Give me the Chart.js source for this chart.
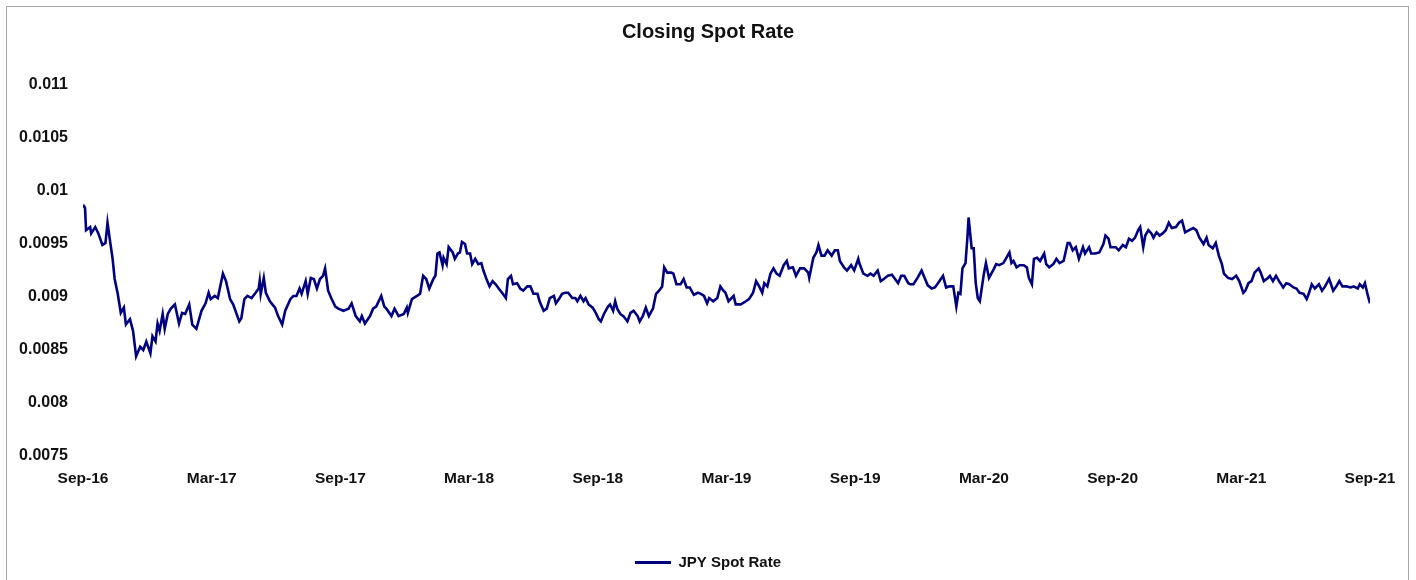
<!DOCTYPE html>
<html lang="en">
<head>
    <meta charset="UTF-8">
    <title>Closing Spot Rate</title>
    <script src="https://cdn.jsdelivr.net/npm/chart.js"></script>
    <style>
        body {
            margin: 0;
            padding: 0;
            background: #fff;
            font-family: "Liberation Sans", Arial, sans-serif;
        }

        /* grey frame round the chart */
        .frame {
            position: absolute;
            left: 6px;
            top: 6px;
            width: 1403px;
            height: 580px;
            border: 1px solid #a6a6a6;
            border-bottom: none;
            box-sizing: border-box;
        }

        .chart-wrapper {
            position: absolute;
            left: 0;
            top: 0;
            width: 1416px;
            height: 580px;
        }
    </style>
</head>
<body>
    <div class="frame"></div>
    <div class="chart-wrapper">
        <canvas id="spotChart" width="1416" height="580"></canvas>
    </div>

    <script>
        // x = trading day since start of Sep-16, y = JPY spot rate
        const tradingDay = [
            0, 2, 3, 7, 8, 12, 15, 19, 22, 24, 26, 29, 31, 34, 37, 40, 42, 46, 49, 52,
            56, 59, 62, 66, 68, 71, 73, 75, 78, 80, 83, 86, 90, 94, 97, 100, 104, 107, 111, 116,
            120, 123, 125, 129, 132, 135, 137, 140, 144, 147, 150, 153, 155, 158, 161, 165, 169, 172, 173, 174,
            177, 179, 183, 188, 191, 195, 198, 203, 206, 209, 212, 214, 218, 220, 223, 226, 229, 232, 235, 237,
            240, 243, 247, 250, 255, 260, 263, 267, 271, 273, 276, 281, 284, 287, 292, 295, 297, 302, 305, 309,
            314, 317, 318, 322, 327, 330, 333, 336, 339, 343, 345, 347, 349, 352, 353, 356, 358, 362, 364, 367,
            369, 371, 374, 376, 379, 381, 384, 387, 390, 392, 395, 398, 401, 404, 407, 411, 414, 416, 419, 421,
            425, 428, 431, 435, 438, 441, 445, 447, 451, 454, 457, 461, 463, 466, 469, 472, 475, 479, 482, 484,
            487, 490, 492, 495, 499, 502, 505, 507, 510, 514, 516, 519, 521, 523, 526, 529, 533, 536, 539, 543,
            545, 548, 551, 554, 558, 561, 564, 567, 569, 572, 576, 578, 581, 585, 588, 591, 594, 598, 602, 605,
            608, 611, 613, 617, 621, 624, 627, 629, 632, 637, 639, 644, 649, 652, 656, 659, 662, 665, 667, 670,
            673, 676, 679, 682, 686, 689, 691, 695, 698, 702, 706, 710, 711, 715, 718, 720, 723, 726, 729, 733,
            736, 739, 741, 745, 748, 752, 755, 759, 760, 764, 768, 771, 774, 778, 781, 784, 788, 792, 795, 798,
            801, 804, 808, 810, 813, 817, 821, 824, 827, 831, 834, 837, 842, 845, 848, 852, 855, 857, 859, 861,
            864, 866, 867, 870, 872, 874, 876, 878, 882, 884, 887, 891, 894, 897, 901, 904, 907, 909, 911, 914,
            917, 921, 924, 926, 929, 931, 934, 937, 941, 943, 946, 950, 953, 956, 960, 964, 966, 969, 972, 975,
            979, 981, 985, 987, 991, 995, 999, 1001, 1004, 1006, 1011, 1014, 1018, 1021, 1024, 1027, 1030, 1033, 1035, 1038,
            1040, 1043, 1046, 1048, 1051, 1054, 1057, 1060, 1063, 1066, 1070, 1073, 1076, 1079, 1083, 1087, 1090, 1093, 1097, 1100,
            1102, 1106, 1109, 1112, 1115, 1117, 1121, 1125, 1129, 1132, 1136, 1138, 1141, 1144, 1147, 1151, 1153, 1156, 1160, 1162,
            1165, 1168, 1171, 1175, 1178, 1181, 1185, 1188, 1191, 1195, 1198, 1200, 1203, 1206, 1210, 1213, 1216, 1220, 1224, 1227,
            1230, 1233, 1237, 1241, 1244, 1248, 1250, 1253, 1255, 1258, 1260
        ];

        const jpyRate = [
            0.00987, 0.00984, 0.00963, 0.00966, 0.0096, 0.00966, 0.0096, 0.00949, 0.00951, 0.0097,
            0.00956, 0.00936, 0.00917, 0.00903, 0.00885, 0.0089, 0.00874, 0.00879, 0.00868, 0.00844,
            0.00853, 0.0085, 0.00858, 0.00847, 0.00863, 0.00858, 0.00875, 0.00868, 0.00884, 0.0087,
            0.00884, 0.00889, 0.00893, 0.00875, 0.00885, 0.00884, 0.00893, 0.00874, 0.0087, 0.00887,
            0.00894, 0.00904, 0.00898, 0.00901, 0.00899, 0.00913, 0.00922, 0.00915, 0.00898, 0.00893,
            0.00885, 0.00877, 0.0088, 0.00898, 0.00901, 0.00899, 0.00904, 0.00908, 0.00915, 0.00903,
            0.00918, 0.00904, 0.00896, 0.0089, 0.00882, 0.00874, 0.00887, 0.00898, 0.00901, 0.00901,
            0.00908, 0.00903, 0.00915, 0.00903, 0.00918, 0.00917, 0.00908, 0.00917, 0.0092, 0.00927,
            0.00906, 0.00899, 0.00891, 0.00889, 0.00887, 0.00889, 0.00894, 0.00882, 0.00877, 0.00882,
            0.00875, 0.00882, 0.00889, 0.00891, 0.00901, 0.00891, 0.00889, 0.00882, 0.00889, 0.00882,
            0.00884, 0.0089, 0.00885, 0.00898, 0.00901, 0.00903, 0.0092, 0.00917, 0.00908, 0.00917,
            0.0092, 0.00941, 0.00942, 0.0093, 0.00937, 0.00931, 0.00947, 0.00942, 0.00936, 0.00941,
            0.00942, 0.00952, 0.0095, 0.00941, 0.00941, 0.00931, 0.00936, 0.00931, 0.00932, 0.00925,
            0.00917, 0.0091, 0.00915, 0.00912, 0.00908, 0.00903, 0.00899, 0.00917, 0.0092, 0.00912,
            0.00913, 0.00908, 0.00906, 0.0091, 0.0091, 0.00903, 0.00903, 0.00896, 0.00887, 0.00889,
            0.00899, 0.00901, 0.00894, 0.00898, 0.00903, 0.00904, 0.00904, 0.00899, 0.00899, 0.00896,
            0.00901, 0.00896, 0.00899, 0.00893, 0.0089, 0.00885, 0.00879, 0.00877, 0.00884, 0.00891,
            0.00893, 0.00887, 0.00896, 0.00889, 0.00884, 0.00882, 0.00877, 0.00885, 0.00887, 0.00882,
            0.00877, 0.00882, 0.0089, 0.00882, 0.00889, 0.00903, 0.00906, 0.0091, 0.00928, 0.00923,
            0.00923, 0.00922, 0.00912, 0.00912, 0.00917, 0.00909, 0.00909, 0.00902, 0.00904, 0.00903,
            0.00901, 0.00894, 0.00899, 0.00896, 0.00899, 0.0091, 0.00906, 0.00904, 0.00896, 0.00901,
            0.00893, 0.00893, 0.00896, 0.00898, 0.00904, 0.00915, 0.0091, 0.00904, 0.00913, 0.0091,
            0.00922, 0.00927, 0.00922, 0.0092, 0.0093, 0.00934, 0.00927, 0.00928, 0.0092, 0.00927,
            0.00927, 0.00923, 0.00918, 0.00937, 0.00942, 0.00949, 0.00939, 0.00939, 0.00944, 0.00939,
            0.00944, 0.00944, 0.00934, 0.00928, 0.00925, 0.0093, 0.00925, 0.00936, 0.00932, 0.00922,
            0.0092, 0.00922, 0.0092, 0.00925, 0.00915, 0.00917, 0.0092, 0.00921, 0.00917, 0.00913,
            0.0092, 0.0092, 0.00913, 0.00912, 0.00912, 0.00918, 0.00925, 0.00918, 0.00911, 0.00908,
            0.00909, 0.00913, 0.0092, 0.00909, 0.0091, 0.0091, 0.00891, 0.00904, 0.00903, 0.00927,
            0.00932, 0.00958, 0.00975, 0.00946, 0.00946, 0.00913, 0.00899, 0.00896, 0.00922, 0.00932,
            0.00918, 0.00925, 0.00931, 0.0093, 0.00932, 0.00937, 0.00942, 0.00932, 0.00934, 0.00928,
            0.0093, 0.0093, 0.00928, 0.00918, 0.00912, 0.00936, 0.00937, 0.00934, 0.00941, 0.00931,
            0.00928, 0.00931, 0.00936, 0.00932, 0.00934, 0.00951, 0.00951, 0.00944, 0.00947, 0.00936,
            0.00947, 0.00941, 0.00947, 0.00941, 0.00941, 0.00942, 0.0095, 0.00958, 0.00955, 0.00947,
            0.00947, 0.00944, 0.00949, 0.00947, 0.00955, 0.00953, 0.00956, 0.00963, 0.00966, 0.00947,
            0.00958, 0.00963, 0.0096, 0.00956, 0.00961, 0.00958, 0.0096, 0.00963, 0.0097, 0.00965,
            0.00966, 0.0097, 0.00972, 0.00961, 0.00963, 0.00965, 0.00963, 0.00956, 0.0095, 0.00956,
            0.00949, 0.00946, 0.00951, 0.00939, 0.00931, 0.00922, 0.00918, 0.00917, 0.0092, 0.00915,
            0.00904, 0.00906, 0.00913, 0.00915, 0.00923, 0.00927, 0.00923, 0.00915, 0.00918, 0.0092,
            0.00915, 0.0092, 0.00915, 0.00909, 0.00913, 0.00912, 0.00909, 0.00908, 0.00904, 0.00903,
            0.00898, 0.00903, 0.00912, 0.00908, 0.00912, 0.00906, 0.0091, 0.00917, 0.00906, 0.0091,
            0.00915, 0.0091, 0.0091, 0.00909, 0.0091, 0.00908, 0.00912, 0.00909, 0.00913, 0.00901,
            0.00894
        ];

        // axis ticks: one label every six months (126 trading days)
        const xTickLabels = ['Sep-16', 'Mar-17', 'Sep-17', 'Mar-18', 'Sep-18', 'Mar-19',
                             'Sep-19', 'Mar-20', 'Sep-20', 'Mar-21', 'Sep-21'];
        const daysPerTick = 126;
        const yTicks = [0.0075, 0.008, 0.0085, 0.009, 0.0095, 0.01, 0.0105, 0.011];

        const points = tradingDay.map((d, i) => ({ x: d, y: jpyRate[i] }));

        const fontFamily = '"Liberation Sans", Arial, sans-serif';
        const textColor = '#111';

        const ctx = document.getElementById('spotChart').getContext('2d');
        const spotChart = new Chart(ctx, {
            type: 'line',
            data: {
                datasets: [{
                    label: 'JPY Spot Rate',
                    data: points,
                    borderColor: '#000080',
                    backgroundColor: '#000080',
                    borderWidth: 2.6,
                    pointRadius: 0,
                    tension: 0,
                    fill: false
                }]
            },
            options: {
                responsive: false,
                animation: false,
                layout: {
                    padding: 0
                },
                plugins: {
                    title: {
                        display: true,
                        text: 'Closing Spot Rate',
                        color: textColor,
                        font: { family: fontFamily, size: 20, weight: 'bold' },
                        padding: { top: 20, bottom: 41 }
                    },
                    legend: {
                        position: 'bottom',
                        labels: {
                            color: textColor,
                            font: { family: fontFamily, size: 15, weight: 'bold' },
                            boxWidth: 36,
                            boxHeight: 3,
                            padding: 6,
                            generateLabels: (chart) => {
                                const items = Chart.defaults.plugins.legend.labels.generateLabels(chart);
                                items.forEach(item => { item.lineWidth = 0; });
                                return items;
                            }
                        }
                    },
                    tooltip: { enabled: false }
                },
                scales: {
                    x: {
                        type: 'linear',
                        min: 0,
                        max: xTickLabels.length * daysPerTick - daysPerTick,
                        grid: { display: false, drawTicks: false },
                        border: { display: false },
                        afterBuildTicks: (scale) => {
                            scale.ticks = xTickLabels.map((_, i) => ({ value: i * daysPerTick }));
                        },
                        afterFit: (scale) => { scale.height = 93; },
                        ticks: {
                            autoSkip: false,
                            maxRotation: 0,
                            padding: 13,
                            color: textColor,
                            font: { family: fontFamily, size: 15.5, weight: 'bold' },
                            callback: (value, index) => xTickLabels[index]
                        }
                    },
                    y: {
                        min: yTicks[0],
                        max: yTicks[yTicks.length - 1],
                        grid: { display: false, drawTicks: false },
                        border: { display: false },
                        afterBuildTicks: (scale) => {
                            scale.ticks = yTicks.map(v => ({ value: v }));
                        },
                        afterFit: (scale) => { scale.width = 83; },
                        ticks: {
                            padding: 15,
                            color: textColor,
                            font: { family: fontFamily, size: 16, weight: 'bold' },
                            callback: (value) => String(Number(value.toFixed(4)))
                        }
                    },
                    // empty right-hand axis: only reserves the white margin right of the plot
                    yRight: {
                        position: 'right',
                        grid: { display: false, drawTicks: false },
                        border: { display: false },
                        ticks: { display: false },
                        afterFit: (scale) => { scale.width = 46; }
                    }
                }
            }
        });
    </script>
</body>
</html>
